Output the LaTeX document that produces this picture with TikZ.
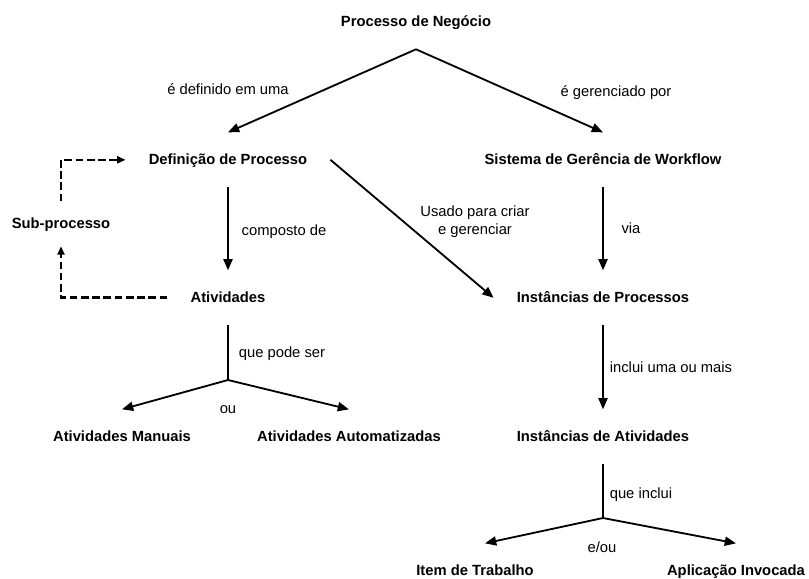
\documentclass[tikz,border=0pt]{standalone}
\usepackage{fontspec}
\setmainfont{Liberation Sans}
\usetikzlibrary{arrows.meta,positioning,calc}

\begin{document}
\begin{tikzpicture}[
  font=\fontsize{10.5}{12.8}\selectfont,
  wfnode/.style={font=\fontsize{10.5}{12.8}\selectfont\bfseries,anchor=base,
    inner xsep=0.575cm,inner ysep=0.5cm,text height=0.285cm,text depth=0.075cm},
  wflabel/.style={anchor=base,inner sep=1pt},
  wfline/.style={line width=1.3pt},
  wfarrow/.style={-{Triangle[length=8pt,width=6.5pt]},line width=1.3pt},
  wfdash/.style={-{Triangle[length=6pt,width=5pt]},dash pattern=on 5.5pt off 2.5pt}
]
  \useasboundingbox (0,0) rectangle (20.225,-14.45);
  % Top and second row
  \node[wfnode] (proc) at (10.4,-0.65) {Processo de Negócio};
  \node[wfnode] (def) at (5.7,-4.1) {Definição de Processo};
  \node[wfnode] (sis) at (15.075,-4.1) {Sistema de Gerência de Workflow};
  \node[wfnode,inner ysep=0.375cm] (sub) at (1.525,-5.7) {Sub-processo};
  % Third row
  \node[wfnode] (ativ) at (5.7,-7.55) {Atividades};
  \node[wfnode] (instp) at (15.075,-7.55) {Instâncias de Processos};
  % Fourth row
  \node[wfnode] (man) at (3.05,-11.025) {Atividades Manuais};
  \node[wfnode] (aut) at (8.725,-11.025) {Atividades Automatizadas};
  \node[wfnode] (insta) at (15.075,-11.025) {Instâncias de Atividades};
  % Bottom row
  \node[wfnode] (item) at (11.875,-14.375) {Item de Trabalho};
  \node[wfnode] (apl) at (18.4,-14.375) {Aplicação Invocada};
  % Fork points
  \coordinate (afork) at (5.7,-9.5);
  \coordinate (ifork) at (15.075,-12.95);
  % Arrows
  \draw[wfarrow] (proc.south) -- (def.north);
  \draw[wfarrow] (proc.south) -- (sis.north);
  \draw[wfarrow] (def.south) -- (ativ.north);
  \draw[wfarrow] (sis.south) -- (instp.north);
  \draw[wfarrow] (def.east) -- (instp.west);
  \draw[wfarrow] (instp.south) -- (insta.north);
  \draw[wfline] (ativ.south) -- (afork);
  \draw[wfarrow] (afork) -- (man.north);
  \draw[wfarrow] (afork) -- (aut.north);
  \draw[wfline] (insta.south) -- (ifork);
  \draw[wfarrow] (ifork) -- ([xshift=0.25cm]item.north);
  \draw[wfarrow] (ifork) -- (apl.north);
  % Sub-process loop
  \draw[wfdash,line width=2pt] (ativ.west) -| (sub.south);
  \draw[wfdash,line width=1.5pt] (sub.north) |- (def.west);
  % Labels
  \node[wflabel] (ldef) at (5.7,-2.35) {é definido em uma};
  \node[wflabel] (lger) at (15.4,-2.4) {é gerenciado por};
  \node[wflabel] (lcomp) at (7.1,-5.875) {composto de};
  \node[wflabel] (lvia) at (15.775,-5.825) {via};
  \node[align=center,inner sep=1pt] (lusa) at (11.875,-5.55) {Usado para criar\\e gerenciar};
  \node[wflabel] (lpode) at (7.05,-8.925) {que pode ser};
  \node[wflabel] (lincl) at (16.775,-9.3) {inclui uma ou mais};
  \node[wflabel] (lou) at (5.7,-10.325) {ou};
  \node[wflabel] (lqinc) at (16.025,-12.45) {que inclui};
  \node[wflabel] (leou) at (15.05,-13.8) {e/ou};
\end{tikzpicture}
\end{document}
